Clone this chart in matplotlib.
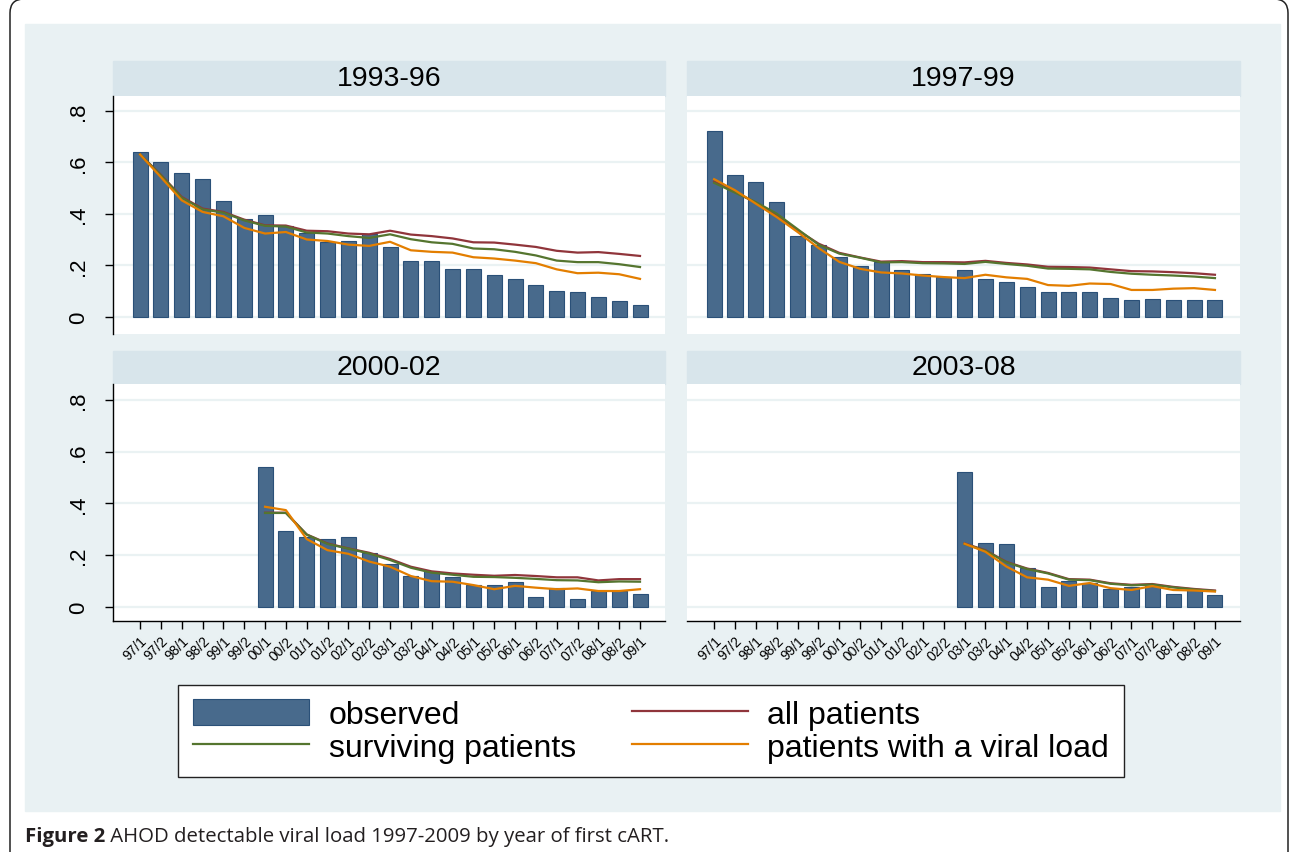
import numpy as np
import matplotlib
matplotlib.use("Agg")
import matplotlib.pyplot as plt
from matplotlib.patches import Rectangle, FancyBboxPatch, Patch
from matplotlib.lines import Line2D
from matplotlib.text import Annotation
from matplotlib.transforms import IdentityTransform

plt.rcParams["font.family"] = ["Liberation Sans", "DejaVu Sans"]

W, H = 1290, 853

periods = ["97/1", "97/2", "98/1", "98/2", "99/1", "99/2", "00/1", "00/2",
           "01/1", "01/2", "02/1", "02/2", "03/1", "03/2", "04/1", "04/2",
           "05/1", "05/2", "06/1", "06/2", "07/1", "07/2", "08/1", "08/2", "09/1"]

# 1993-96 (starts 97/1)
obs_9396 = [0.640, 0.601, 0.560, 0.535, 0.450, 0.382, 0.395, 0.354, 0.328, 0.292,
            0.294, 0.321, 0.272, 0.217, 0.219, 0.188, 0.187, 0.165, 0.148, 0.125,
            0.101, 0.099, 0.079, 0.063, 0.048]
all_9396 = [0.631, 0.552, 0.466, 0.421, 0.408, 0.378, 0.356, 0.355, 0.335, 0.333,
            0.324, 0.321, 0.335, 0.320, 0.314, 0.305, 0.290, 0.289, 0.281, 0.272,
            0.257, 0.250, 0.252, 0.245, 0.237]
surv_9396 = [0.631, 0.550, 0.463, 0.418, 0.405, 0.375, 0.354, 0.351, 0.328, 0.324,
             0.314, 0.307, 0.321, 0.302, 0.290, 0.284, 0.266, 0.263, 0.253, 0.239,
             0.219, 0.213, 0.213, 0.205, 0.194]
vl_9396 = [0.631, 0.543, 0.453, 0.408, 0.391, 0.346, 0.324, 0.330, 0.301, 0.295,
           0.281, 0.276, 0.292, 0.259, 0.253, 0.250, 0.232, 0.227, 0.219, 0.209,
           0.185, 0.170, 0.172, 0.166, 0.148]

# 1997-99 (starts 97/1)
obs_9799 = [0.723, 0.551, 0.524, 0.446, 0.314, 0.279, 0.234, 0.199, 0.214, 0.183,
            0.168, 0.156, 0.181, 0.148, 0.137, 0.117, 0.098, 0.099, 0.099, 0.075,
            0.065, 0.070, 0.065, 0.067, 0.067]
all_9799 = [0.526, 0.485, 0.444, 0.397, 0.337, 0.285, 0.249, 0.231, 0.215, 0.217,
            0.213, 0.213, 0.212, 0.218, 0.210, 0.204, 0.195, 0.194, 0.192, 0.185,
            0.178, 0.177, 0.174, 0.170, 0.164]
surv_9799 = [0.521, 0.483, 0.446, 0.401, 0.341, 0.281, 0.246, 0.230, 0.212, 0.213,
             0.209, 0.208, 0.206, 0.214, 0.206, 0.199, 0.188, 0.187, 0.185, 0.175,
             0.168, 0.164, 0.161, 0.157, 0.151]
vl_9799 = [0.535, 0.492, 0.440, 0.388, 0.330, 0.268, 0.214, 0.187, 0.173, 0.169,
           0.161, 0.155, 0.151, 0.164, 0.154, 0.148, 0.124, 0.121, 0.130, 0.128,
           0.105, 0.105, 0.110, 0.112, 0.105]

# 2000-02 (starts 00/1)
obs_0002 = [0.539, 0.292, 0.270, 0.261, 0.270, 0.209, 0.164, 0.119, 0.137, 0.114,
            0.085, 0.086, 0.095, 0.039, 0.071, 0.031, 0.063, 0.063, 0.048]
all_0002 = [0.364, 0.364, 0.280, 0.245, 0.226, 0.209, 0.185, 0.155, 0.137, 0.129,
            0.124, 0.120, 0.123, 0.119, 0.114, 0.114, 0.102, 0.107, 0.107]
surv_0002 = [0.363, 0.363, 0.279, 0.243, 0.225, 0.206, 0.181, 0.151, 0.132, 0.124,
             0.116, 0.115, 0.112, 0.108, 0.103, 0.102, 0.095, 0.098, 0.097]
vl_0002 = [0.387, 0.374, 0.262, 0.219, 0.205, 0.175, 0.155, 0.119, 0.099, 0.097,
           0.084, 0.068, 0.081, 0.074, 0.068, 0.071, 0.061, 0.061, 0.068]

# 2003-08 (starts 03/1)
obs_0308 = [0.523, 0.248, 0.241, 0.151, 0.075, 0.101, 0.092, 0.068, 0.076, 0.081,
            0.048, 0.065, 0.044]
all_0308 = [0.245, 0.219, 0.174, 0.148, 0.131, 0.107, 0.105, 0.091, 0.085, 0.088,
            0.077, 0.069, 0.063]
surv_0308 = [0.243, 0.217, 0.172, 0.146, 0.129, 0.105, 0.103, 0.089, 0.083, 0.086,
             0.075, 0.067, 0.061]
vl_0308 = [0.244, 0.213, 0.156, 0.114, 0.105, 0.081, 0.092, 0.072, 0.065, 0.080,
           0.065, 0.063, 0.059]

panels = [
    ("1993-96", "97/1", obs_9396, all_9396, surv_9396, vl_9396),
    ("1997-99", "97/1", obs_9799, all_9799, surv_9799, vl_9799),
    ("2000-02", "00/1", obs_0002, all_0002, surv_0002, vl_0002),
    ("2003-08", "03/1", obs_0308, all_0308, surv_0308, vl_0308),
]

BG = "#e9f1f3"
STRIP = "#d8e5eb"
GRID = "#eaf2f3"
BAR = "#486a8c"
BAR_EDGE = "#2a5078"
C_ALL = "#90353b"
C_SURV = "#55752f"
C_VL = "#e37e00"


def fx(px):
    return px / W


def fy(py):
    return 1 - py / H


fig = plt.figure(figsize=(W / 100, H / 100), dpi=100)

# outer frame and light background (kept behind the axes)
fig.patches.append(FancyBboxPatch((10, -60), 1278, 913,
                                  boxstyle="round,pad=0,rounding_size=14",
                                  fill=False, ec="#222222", lw=1.1, zorder=-10,
                                  transform=IdentityTransform(), figure=fig))
fig.patches.append(Rectangle((fx(25), fy(812)), fx(1255), 787 / H,
                             transform=fig.transFigure, color=BG, zorder=-10, figure=fig))

# panel geometry in pixels
cols = [(113, 665), (687, 1240)]
rows = [(62, 97, 335, (-0.066, 0.858)), (352, 385, 622, (-0.055, 0.862))]

x = np.arange(len(periods))
for i, (title, start, obs, allp, surv, vl) in enumerate(panels):
    r, c = divmod(i, 2)
    left, right = cols[c]
    s_top, p_top, p_bot, ylim = rows[r]
    ax = fig.add_axes([fx(left), fy(p_bot), (right - left) / W, (p_bot - p_top) / H])
    ax.set_facecolor("white")

    # header strip
    fig.patches.append(Rectangle((fx(left), fy(p_top)), (right - left) / W, (p_top - s_top) / H,
                                 transform=fig.transFigure, color=STRIP, zorder=-5, figure=fig))
    fig.text(fx((left + right) / 2), fy((s_top + p_top) / 2), title,
             ha="center", va="center", fontsize=20.5, color="black")

    k = periods.index(start)
    xs = x[k:k + len(obs)]
    ax.bar(xs, obs, width=0.72, color=BAR, edgecolor=BAR_EDGE, linewidth=0.8, zorder=2)
    ax.plot(xs, allp, color=C_ALL, lw=1.6, zorder=3)
    ax.plot(xs, surv, color=C_SURV, lw=1.6, zorder=4)
    ax.plot(xs, vl, color=C_VL, lw=1.6, zorder=5)

    ax.set_xlim(-1.3, 25.2)
    ax.set_ylim(*ylim)
    ax.set_yticks([0, 0.2, 0.4, 0.6, 0.8])
    ax.yaxis.grid(True, color=GRID, lw=1.6)
    ax.set_axisbelow(True)
    for sp in ax.spines.values():
        sp.set_visible(False)

    if c == 0:
        ax.spines["left"].set_visible(True)
        ax.spines["left"].set_color("black")
        ax.spines["left"].set_linewidth(1.0)
        ax.set_yticklabels(["0", ".2", ".4", ".6", ".8"], rotation=90, va="center")
        ax.tick_params(axis="y", length=6, width=1.0, pad=11, labelsize=16)
    else:
        ax.tick_params(axis="y", left=False, labelleft=False)

    if r == 1:
        ax.spines["bottom"].set_visible(True)
        ax.spines["bottom"].set_color("black")
        ax.spines["bottom"].set_linewidth(1.0)
        ax.set_xticks(x)
        ax.set_xticklabels(periods, rotation=45, ha="right", rotation_mode="anchor")
        ax.tick_params(axis="x", length=6, width=1.0, pad=3, labelsize=10)
    else:
        ax.tick_params(axis="x", bottom=False, labelbottom=False)

handles = [Patch(facecolor=BAR, edgecolor=BAR_EDGE, lw=0.8),
           Line2D([], [], color=C_SURV, lw=1.6),
           Line2D([], [], color=C_ALL, lw=1.6),
           Line2D([], [], color=C_VL, lw=1.6)]
labels = ["observed", "surviving patients", "all patients", "patients with a viral load"]
leg = fig.legend(handles, labels, ncol=2, loc="center", bbox_to_anchor=(fx(651), fy(732)),
                 fontsize=23, frameon=True, fancybox=False, framealpha=1,
                 edgecolor="#222222", handlelength=3.65, handleheight=0.85,
                 handletextpad=0.6, columnspacing=1.75, labelspacing=0.05, borderpad=0.45)
leg.get_frame().set_linewidth(1.0)

# caption: bold lead-in followed by normal text
cap1 = fig.text(fx(25), fy(842), "Figure 2", fontsize=14.7, fontweight="bold",
                color="#231f20", family="Open Sans", va="baseline")
fig.add_artist(Annotation(
    " AHOD detectable viral load 1997-2009 by year of first cART.", xy=(1, 0),
    xycoords=cap1, va="bottom", fontsize=14.7, color="#231f20", family="Open Sans"))

fig.savefig("out.png", dpi=100)
